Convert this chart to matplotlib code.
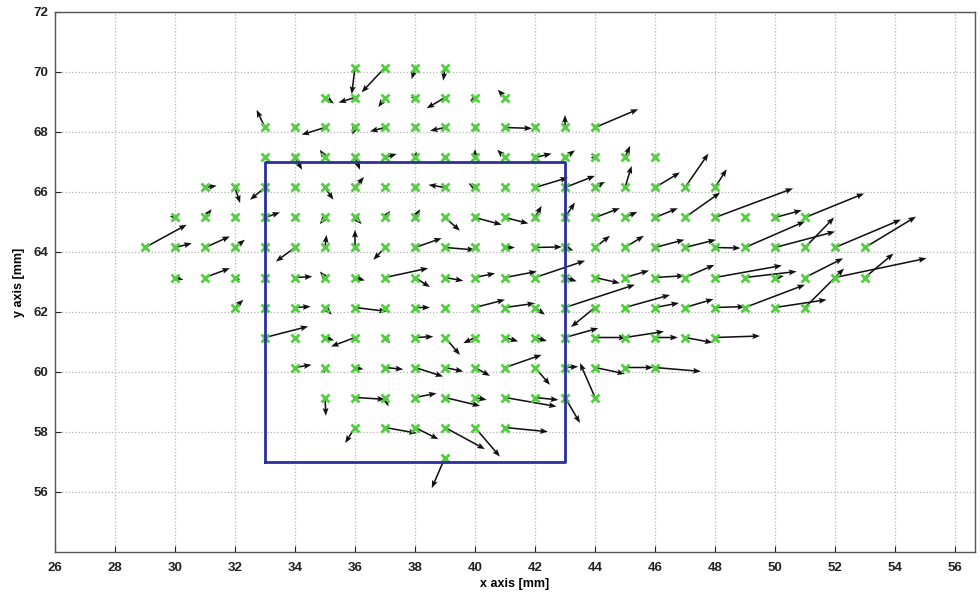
import numpy as np
import matplotlib
matplotlib.use("Agg")
import matplotlib.pyplot as plt

# ---- data: measurement grid points (x in mm, y in mm) and displacement vectors ----
row_y = [70.15, 69.15, 68.15, 67.15, 66.15, 65.15, 64.15, 63.15, 62.15, 61.15, 60.15, 59.15, 58.15, 57.15]
row_x_start = [36, 35, 33, 33, 31, 30, 29, 30, 32, 33, 34, 35, 36, 39]
row_x_end = [39, 41, 44, 46, 48, 51, 53, 53, 51, 48, 46, 44, 41, 39]

u_rows = [
    [-0.11, -0.78, -0.11, -0.06],
    [0.3, -0.55, -0.22, -0.15, -0.61, -0.17, -0.24],
    [-0.28, 0.1, -0.78, -0.09, -0.5, 0.05, -0.5, 0.0, 0.9, 0.05, 0.0, 1.44],
    [0.05, 0.24, -0.17, 0.17, 0.39, 0.05, 0.05, 0.0, -0.26, 0.55, 0.33, -0.15, 0.17, 0.05],
    [0.39, 0.17, -0.5, 0.05, 0.28, 0.3, 0.05, -0.08, -0.55, -0.22, 0.05, 1.1, 1.0, 0.33, 0.22, 0.83, 0.78, 0.39],
    [-0.17, 0.22, 0.05, 0.5, 0.1, -0.17, 0.22, 0.17, 0.17, 0.5, 0.89, 0.78, 0.22, 0.33, 0.83, 0.41, 0.76, 1.17, 2.6, 0.1, 0.89, 1.97],
    [1.39, 0.56, 0.83, 0.33, 0.05, -0.64, 0.05, 0.0, -0.39, 0.89, 1.0, 0.05, 0.33, 0.9, 0.28, 0.5, 0.63, 0.98, 1.03, 0.85, 2.0, 2.0, 0.97, 2.2, 1.7],
    [0.28, 0.83, 0.17, 0.05, 0.58, -0.17, 0.33, 1.44, 0.5, 0.61, 0.67, 1.06, 1.67, 0.39, 0.83, 0.8, 0.98, 0.98, 2.23, 1.72, 0.3, 1.27, 3.05, 0.95],
    [0.28, 0.0, 0.52, 0.22, 1.06, 0.05, 0.5, 0.05, 1.0, 1.0, 0.33, 2.33, -0.8, 1.5, 0.8, 0.95, 1.0, 2.0, 1.72, 1.3],
    [1.44, 0.05, 0.3, -0.8, 0.17, 0.61, 0.5, -0.39, 0.44, 0.4, 1.11, 1.05, 1.3, 0.76, 0.92, 1.5],
    [0.55, -0.02, 0.28, 0.61, 0.94, 0.61, 0.5, 1.22, 0.5, 0.44, 1.0, 0.94, 1.53],
    [0.03, 1.0, 0.11, 0.72, 1.17, 0.39, 1.72, 0.78, 0.5, -0.5],
    [-0.33, 1.06, 0.78, 1.33, 0.83, 1.43],
    [-0.44],
]
v_rows = [
    [-0.89, -0.83, -0.39, -0.44],
    [-0.2, -0.17, -0.32, 0.0, -0.36, -0.13, 0.26],
    [0.59, 0.05, -0.24, -0.24, -0.13, 0.0, -0.11, -0.13, -0.03, 0.0, 0.42, 0.61],
    [0.05, -0.41, 0.26, -0.41, 0.12, 0.2, 0.0, 0.28, 0.26, 0.13, 0.24, 0.0, 0.39, 0.05],
    [0.06, -0.52, -0.41, 0.0, -0.41, 0.35, 0.05, 0.08, 0.09, 0.14, 0.0, 0.33, 0.39, 0.19, 0.72, 0.5, 1.13, 0.61],
    [0.05, 0.28, 0.0, 0.17, 0.0, -0.22, -0.22, 0.22, 0.28, -0.44, -0.24, -0.2, 0.39, 0.5, 0.31, 0.19, 0.31, 0.83, 0.97, 0.05, 0.24, 0.8],
    [0.76, 0.14, 0.37, 0.26, 0.0, -0.47, 0.42, 0.59, -0.41, 0.31, -0.08, 0.0, 0.0, 0.02, -0.1, 0.39, 0.39, 0.26, 0.26, -0.02, 0.87, 0.53, 1.0, 0.93, 1.03],
    [-0.08, 0.31, -0.08, 0.0, 0.03, 0.2, -0.1, 0.31, -0.32, -0.11, 0.14, 0.2, 0.56, -0.13, -0.19, 0.23, 0.06, 0.42, 0.4, 0.2, 0.05, 0.64, 0.64, 0.8],
    [0.26, 0.15, 0.03, -0.24, -0.13, -0.05, 0.0, 0.0, 0.26, 0.14, -0.24, 0.76, -0.65, 0.42, 0.15, 0.28, 0.03, 0.76, 0.26, 1.3],
    [0.37, 0.0, -0.1, -0.3, -0.19, 0.03, -0.58, -0.19, -0.13, -0.12, 0.31, 0.0, 0.2, 0.0, -0.17, 0.05],
    [0.09, -0.19, -0.06, -0.06, -0.3, -0.13, -0.28, 0.42, -0.58, 0.03, -0.21, 0.0, -0.13],
    [-0.61, -0.06, -0.3, 0.14, -0.28, -0.08, -0.3, -0.08, -0.85, 1.15],
    [-0.52, -0.19, -0.39, -0.72, -0.97, -0.14],
    [-1.02],
]

# region of interest rectangle
roi_x = [33, 43]
roi_y = [57, 67]

x_ticks = list(range(26, 57, 2))
y_ticks = list(range(56, 73, 2))

# ---- assemble ----
X, Y, U, V = [], [], [], []
for yv, xs, xe, ur, vr in zip(row_y, row_x_start, row_x_end, u_rows, v_rows):
    xs_row = list(range(xs, xe + 1))
    X += xs_row
    Y += [yv] * len(xs_row)
    U += ur
    V += vr
X = np.array(X, float); Y = np.array(Y, float)
U = np.array(U, float); V = np.array(V, float)

plt.rcParams['font.family'] = ['Liberation Sans', 'DejaVu Sans']

fig = plt.figure(figsize=(9.8, 5.99), dpi=100)
ax = fig.add_axes([55 / 980, 47 / 599, 920 / 980, 540 / 599])

ax.set_xlim(26, 26 + 920 / 30)
ax.set_ylim(54, 72)
ax.set_xticks(x_ticks)
ax.set_yticks(y_ticks)
ax.grid(True, linestyle=':', color='#b4b4b4', linewidth=0.9)
ax.set_axisbelow(True)

ax.quiver(X, Y, U, V, angles='xy', scale_units='xy', scale=1,
          color='#111111', width=0.0017, headwidth=3.8, headlength=5,
          headaxislength=4.3, minlength=0.05, zorder=3)
ax.plot(X, Y, 'x', color='#55cc44', markersize=6, markeredgewidth=2.0, zorder=4)

ax.plot([roi_x[0], roi_x[1], roi_x[1], roi_x[0], roi_x[0]],
        [roi_y[0], roi_y[0], roi_y[1], roi_y[1], roi_y[0]],
        color='#2a2f9c', linewidth=2, zorder=5)

ax.tick_params(direction='in', length=4, labelsize=9.5, colors='#222222')
ax.tick_params(axis='x', pad=7)
ax.tick_params(axis='y', pad=5)
for lab in ax.get_xticklabels() + ax.get_yticklabels():
    lab.set_fontweight('bold')
ax.set_xlabel('x axis [mm]', fontsize=9, fontweight='bold', labelpad=3)
ax.set_ylabel('y axis [mm]', fontsize=9, fontweight='bold', labelpad=6)
for s in ax.spines.values():
    s.set_color('#555555')
    s.set_linewidth(1.0)

fig.savefig('out.png', dpi=100)
